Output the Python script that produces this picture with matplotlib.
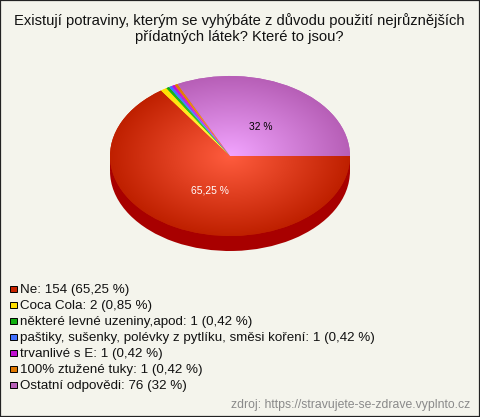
import matplotlib
matplotlib.use('Agg')
import matplotlib.pyplot as plt
import numpy as np
from matplotlib.colors import LinearSegmentedColormap
from matplotlib.patches import Rectangle

plt.rcParams['font.family'] = ['Liberation Sans', 'DejaVu Sans']

title_lines = ['Existují potraviny, kterým se vyhýbáte z důvodu použití nejrůznějších',
               'přídatných látek? Které to jsou?']
names = ['Ne', 'Coca Cola', 'některé levné uzeniny,apod', 'paštiky, sušenky, polévky z pytlíku, směsi koření',
         'trvanlivé s E', '100% ztužené tuky', 'Ostatní odpovědi']
counts = [154, 2, 1, 1, 1, 1, 76]
percents = ['65,25', '0,85', '0,42', '0,42', '0,42', '0,42', '32']
edge_colors = ['#bf2000', '#ffe000', '#10b010', '#4070ff', '#c010d0', '#e07800', '#b75fb7']
center_colors = ['#ff5c3e', '#ffff60', '#50f050', '#80b0ff', '#ff60ff', '#ffb040', '#f2a4ff']
legend_colors = ['#c82400', '#ffe000', '#10b010', '#4070ff', '#c010d0', '#e07800', '#b860b8']
source = 'zdroj: https://stravujete-se-zdrave.vyplnto.cz'

W, H = 480, 417
BG = '#f4f4ec'
fig = plt.figure(figsize=(W / 100, H / 100), dpi=100, facecolor=BG)


def fx(x):
    return x / W


def fy(y):
    return 1 - y / H


# pie ellipse is 240x160 px, side is 15 px deep
cx, cy, rx, ry, depth = 230, 156, 120, 80, 15
ax = fig.add_axes([fx(cx - rx), fy(cy + ry + depth), 2 * rx / W, (2 * ry + depth) / H])
drop = depth / ry

# side of the pie
ax.pie(counts, colors=['#a80000'] * len(counts), center=(0, -drop), startangle=0, counterclock=False, radius=1)
ax.add_patch(Rectangle((-1, -drop), 2, drop, fc='#a80000', ec='none'))

# top of the pie, radial gradient clipped to each wedge
wedges, _ = ax.pie(counts, colors=edge_colors, startangle=0, counterclock=False, radius=1)
gx, gy = np.meshgrid(np.linspace(-1, 1, 300), np.linspace(-1, 1, 300))
dist = np.clip(np.hypot(gx, gy), 0, 1)
for wedge, c0, c1 in zip(wedges, center_colors, edge_colors):
    cmap = LinearSegmentedColormap.from_list('w', [c0, c1])
    im = ax.imshow(dist, cmap=cmap, vmin=0, vmax=1, extent=(-1, 1, -1, 1), origin='lower', aspect='auto', zorder=3)
    im.set_clip_path(wedge)

ax.set_aspect('auto')
ax.set_xlim(-1, 1)
ax.set_ylim(-1 - drop, 1)
ax.axis('off')

for i, line in enumerate(title_lines):
    fig.text(fx(239), fy(20.5 + 16 * i), line, ha='center', va='center', fontsize=10.6, color='#111111')
fig.text(fx(210), fy(190), percents[0] + ' %', ha='center', va='center', fontsize=7.4, color='white')
fig.text(fx(261), fy(127), percents[-1] + ' %', ha='center', va='center', fontsize=7.4, color='black')

# legend
for i, (name, n, pct, col) in enumerate(zip(names, counts, percents, legend_colors)):
    y = 289 + 16 * i
    fig.add_artist(Rectangle((fx(10), fy(y + 3.3)), 6.5 / W, 6.5 / H, transform=fig.transFigure,
                             fc=col, ec='black', lw=0.7))
    fig.text(fx(20), fy(y + 0.5), f'{name}: {n} ({pct} %)', ha='left', va='center', fontsize=9.66, color='#111111')

fig.text(fx(470), fy(405), source, ha='right', va='center', fontsize=8.8, color='#8a8a8a')

# outer border
fig.add_artist(Rectangle((0, 0), 1, 1, transform=fig.transFigure, fc='none', ec='#222222', lw=1.6))

fig.savefig('out.png', dpi=100, facecolor=BG)
